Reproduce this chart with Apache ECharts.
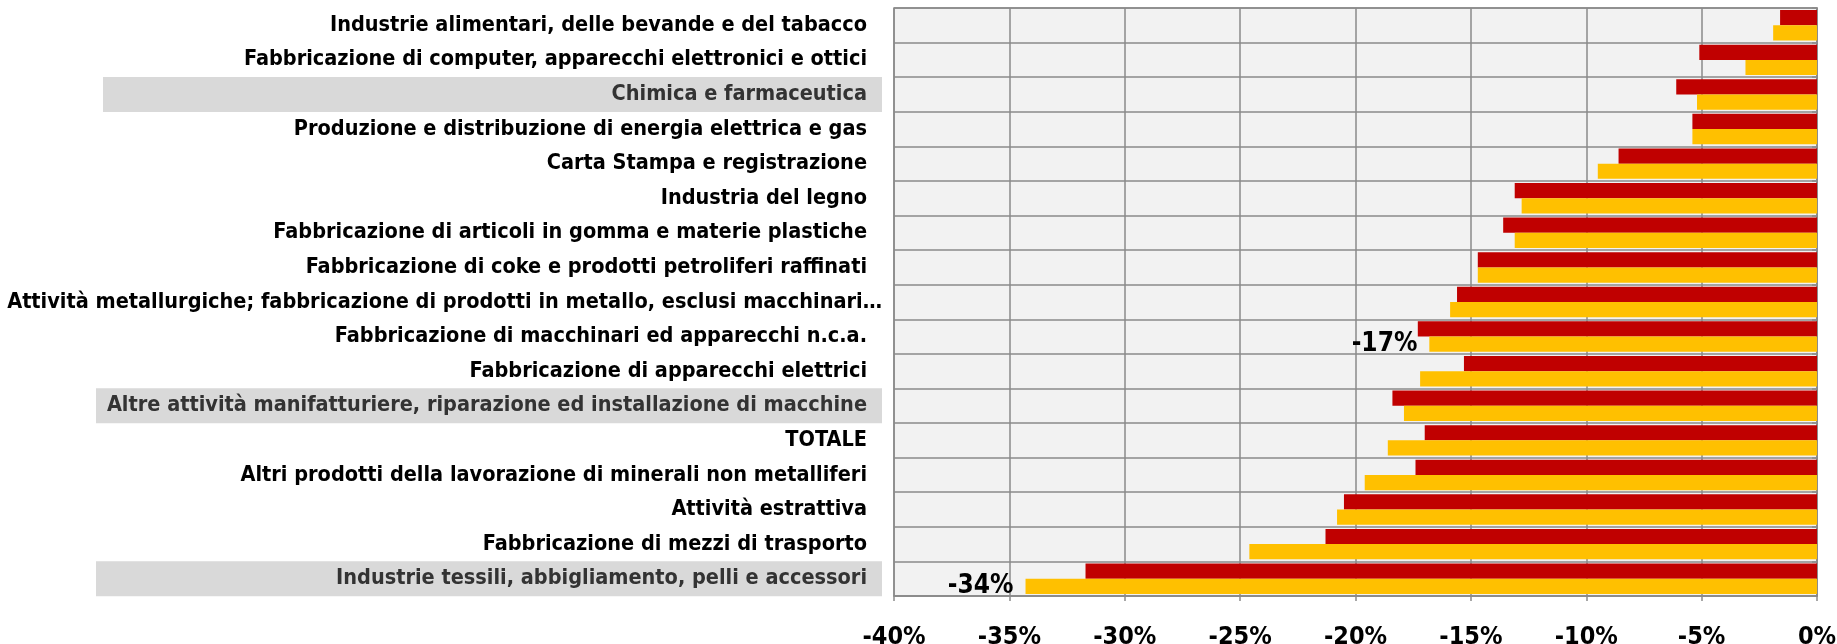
<!DOCTYPE html>
<html>
<head>
<meta charset="utf-8">
<script src="https://cdn.jsdelivr.net/npm/echarts@6/dist/echarts.min.js"></script>
<style>
  html, body { margin: 0; padding: 0; background: #fff; }
  #chart { width: 1837px; height: 644px; }
</style>
</head>
<body>
<div id="chart"></div>
<script>
// categorie, dall'alto verso il basso
var categories = [
    'Industrie alimentari, delle bevande e del tabacco',
    'Fabbricazione di computer, apparecchi elettronici e ottici',
    'Chimica e farmaceutica',
    'Produzione e distribuzione di energia elettrica e gas',
    'Carta Stampa e registrazione',
    'Industria del legno',
    'Fabbricazione di articoli in gomma e materie plastiche',
    'Fabbricazione di coke e prodotti petroliferi raffinati',
    'Attività metallurgiche; fabbricazione di prodotti in metallo, esclusi macchinari…',
    'Fabbricazione di macchinari ed apparecchi n.c.a.',
    'Fabbricazione di apparecchi elettrici',
    'Altre attività manifatturiere, riparazione ed installazione di macchine',
    'TOTALE',
    'Altri prodotti della lavorazione di minerali non metalliferi',
    'Attività estrattiva',
    'Fabbricazione di mezzi di trasporto',
    'Industrie tessili, abbigliamento, pelli e accessori'
];

// serie rossa (barra superiore)
var redValues = [-1.6, -5.1, -6.1, -5.4, -8.6, -13.1, -13.6, -14.7, -15.6, -17.3, -15.3, -18.4, -17.0, -17.4, -20.5, -21.3, -31.7];
// serie gialla (barra inferiore)
var yellowValues = [-1.9, -3.1, -5.2, -5.4, -9.5, -12.8, -13.1, -14.7, -15.9, -16.8, -17.2, -17.9, -18.6, -19.6, -20.8, -24.6, -34.3];

// etichette evidenziate con sfondo grigio
var highlighted = [
    'Chimica e farmaceutica',
    'Altre attività manifatturiere, riparazione ed installazione di macchine',
    'Industrie tessili, abbigliamento, pelli e accessori'
];
// etichetta troncata che sborda verso il grafico
var truncated = ['Attività metallurgiche; fabbricazione di prodotti in metallo, esclusi macchinari…'];
// indici della serie gialla con etichetta del valore
var labelledYellow = [9, 16];

var xTicks = { min: -40, max: 0, interval: 5 };

var gridColor = '#8a8a8a';
var narrow = "'DejaVu Sans Condensed', 'Open Sans', sans-serif";

var chart = echarts.init(document.getElementById('chart'));

// stile comune delle etichette con sfondo grigio
function hlStyle(w) {
    return {
        fontFamily: narrow,
        fontWeight: 'bold',
        fontSize: 21.5,
        color: '#333',
        backgroundColor: '#D9D9D9',
        width: w,
        height: 35,
        lineHeight: 35,
        align: 'right',
        padding: [0, 15, 0, 0]
    };
}

var option = {
    backgroundColor: '#fff',
    animation: false,
    grid: {
        left: 894,
        right: 20,
        top: 8,
        bottom: 48,
        outerBoundsMode: 'none',
        containLabel: false,
        show: true,
        backgroundColor: '#F2F2F2',
        borderColor: gridColor,
        borderWidth: 1.5
    },
    xAxis: {
        type: 'value',
        min: xTicks.min,
        max: xTicks.max,
        interval: xTicks.interval,
        axisLine: { show: true, lineStyle: { color: gridColor, width: 1.5 } },
        axisTick: { show: true, length: 5, lineStyle: { color: gridColor, width: 1.5 } },
        splitLine: { show: true, lineStyle: { color: gridColor, width: 1.5 } },
        axisLabel: {
            margin: 29,
            color: '#000',
            fontFamily: narrow,
            fontWeight: 'bold',
            fontSize: 25,
            formatter: function(v) { return v + '%'; }
        }
    },
    yAxis: {
        type: 'category',
        inverse: true,
        data: categories,
        axisLine: { show: true, lineStyle: { color: gridColor, width: 1.5 } },
        axisTick: { show: true, length: 5, lineStyle: { color: gridColor, width: 1.5 } },
        splitLine: { show: true, interval: 0, lineStyle: { color: gridColor, width: 1.5 } },
        axisLabel: {
            interval: 0,
            margin: 12,
            formatter: function(v) {
                var i = highlighted.indexOf(v);
                if (i == 0) return '{hs|' + v + '}';
                if (i > 0) return '{hl|' + v + '}';
                if (truncated.indexOf(v) >= 0) return '{ov|' + v + '}';
                return '{b|' + v + '}';
            },
            rich: {
                b: {
                    fontFamily: narrow,
                    fontWeight: 'bold',
                    fontSize: 21.5,
                    color: '#000',
                    padding: [0, 15, 0, 0]
                },
                ov: {
                    fontFamily: narrow,
                    fontWeight: 'bold',
                    fontSize: 21.5,
                    color: '#000',
                    padding: [0, 0, 0, 0]
                },
                hl: hlStyle(771),
                hs: hlStyle(764)
            }
        }
    },
    series: [{
        name: 'Rosso',
        type: 'bar',
        data: redValues,
        barGap: '0%',
        barCategoryGap: '12%',
        itemStyle: { color: '#C00000' }
    },
        {
            name: 'Giallo',
            type: 'bar',
            data: yellowValues.map(function(v, i) {
                if (labelledYellow.indexOf(i) >= 0) {
                    return {
                        value: v,
                        label: {
                            show: true,
                            position: 'left',
                            distance: 12,
                            color: '#000',
                            fontFamily: narrow,
                            fontWeight: 'bold',
                            fontSize: 26,
                            formatter: function(p) { return Math.round(p.value) + '%'; }
                        }
                    };
                }
                return v;
            }),
            barGap: '0%',
            barCategoryGap: '12%',
            itemStyle: { color: '#FFC000' }
        }
    ]
};
chart.setOption(option);
</script>
</body>
</html>
